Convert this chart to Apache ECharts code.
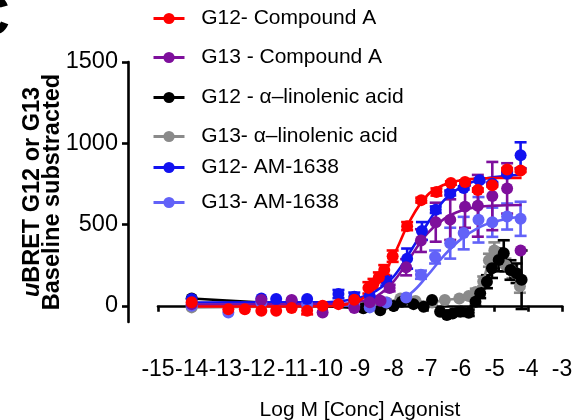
<!DOCTYPE html>
<html><head><meta charset="utf-8">
<script src="https://cdn.jsdelivr.net/npm/echarts@6/dist/echarts.min.js"></script>
<style>html,body{margin:0;padding:0;background:#fff}#c{width:574px;height:420px}</style>
</head><body><div id="c"></div><script>
// ---- tick labels ----
const xTicks = [-15,-14,-13,-12,-11,-10,-9,-8,-7,-6,-5,-4,-3];
const yTicks = [0, 500, 1000, 1500];

// ---- series names ----
const names = ['G12- Compound A','G13 - Compound A','G12 - \u03b1\u2013linolenic acid','G13- \u03b1\u2013linolenic acid','G12- AM-1638','G13- AM-1638'];

// ---- G12 Compound A (red) ----
const redX   = [-14,-12.91,-12.42,-11.93,-11.49,-11.03,-10.57,-10.11,-9.64,-9.17,-8.75,-8.6,-8.44,-8.28,-8.03,-7.6,-7.18,-6.73,-6.3,-5.88,-5.5,-5.07,-4.63,-4.23];
const redY   = [21,-21,-21,-31,-31,-14,-31,0,10,37,110,135,175,220,305,490,650,700,755,762,712,742,838,833];
const redErr = [0,0,0,0,0,0,22,0,0,0,35,30,30,30,35,25,15,22,10,10,10,10,10,10];
const redFitX = [-14,-10,-9.5,-9,-8.5,-8,-7.5,-7,-6.5,-6,-5.5,-5,-4.2];
const redFitY = [-5,-3,5,35,125,310,530,680,745,772,782,786,787];

// ---- G13 Compound A (purple) ----
const purX   = [-14,-11.93,-11.03,-10.11,-9.17,-8.71,-8.39,-8.12,-7.63,-7.19,-6.75,-6.32,-5.88,-5.5,-5.07,-4.63,-4.23];
const purY   = [10,35,35,-41,-14,21,31,109,237,401,514,530,610,615,675,722,340];
const purErr = [0,0,0,0,0,10,10,20,50,70,120,125,130,190,210,155,0];
const purFitX = [-14,-9.5,-9,-8.5,-8,-7.5,-7,-6.5,-6,-5.5,-5,-4.2];
const purFitY = [8,12,25,60,150,300,445,535,585,608,616,620];

// ---- G12 alpha-linolenic acid (black) ----
const blkX   = [-14,-8.9,-8.4,-8.0,-7.76,-7.41,-7.11,-6.86,-6.62,-6.42,-6.25,-6.02,-5.77,-5.57,-5.43,-5.23,-5.08,-4.88,-4.73,-4.53,-4.35,-4.2];
const blkY   = [45,-16,-27,-2,25,10,-6,35,-37,-57,-47,-37,-43,25,77,148,231,282,323,220,200,160];
const blkErr = [0,0,0,0,0,0,0,0,0,0,15,20,20,25,30,40,60,70,80,60,60,180];

// ---- G13 alpha-linolenic acid (grey) ----
const gryX   = [-14,-8.7,-8.2,-7.8,-7.35,-6.86,-6.48,-6.05,-5.77,-5.56,-5.34,-5.17,-5.01,-4.85,-4.68,-4.47,-4.25];
const gryY   = [-10,0,20,45,30,20,35,45,60,85,150,280,340,300,250,210,120];
const gryErr = [0,0,0,0,0,0,0,0,0,20,30,40,50,40,40,40,40];

// ---- G12 AM-1638 (blue) ----
const bluX   = [-14,-11.93,-11.49,-11.03,-10.57,-9.64,-9.17,-8.71,-8.22,-7.6,-7.16,-6.75,-6.32,-5.92,-5.45,-5.07,-4.63,-4.23];
const bluY   = [41,45,41,31,41,72,56,60,154,290,460,591,694,725,772,751,813,926];
const bluErr = [0,0,0,0,0,25,25,0,30,62,55,20,15,10,10,10,10,80];
const bluFitX = [-14,-10,-9.5,-9,-8.5,-8,-7.5,-7,-6.5,-6,-5.5,-5,-4.2];
const bluFitY = [20,22,30,50,95,180,335,505,650,730,772,792,806];

// ---- G13 AM-1638 (light blue) ----
const lbuX   = [-14,-12.91,-11.93,-10.57,-9.17,-8.71,-8.22,-7.63,-7.19,-6.77,-6.32,-5.92,-5.48,-5.07,-4.63,-4.23];
const lbuY   = [0,-41,20,10,0,-10,20,51,191,300,385,447,529,514,549,535];
const lbuErr = [0,0,0,0,0,0,0,15,25,40,95,100,140,90,80,105];
const lbuFitX = [-14,-9,-8.5,-8,-7.5,-7,-6.5,-6,-5.5,-5,-4.5,-4.2];
const lbuFitY = [0,2,8,25,75,185,310,410,478,518,540,548];

const colors = {red:'#FF0000', pur:'#7E0F9C', blk:'#000000', gry:'#8A8A8A', blu:'#1212F0', lbu:'#6262F8'};

function pairs(xs, ys){ return xs.map((x,i)=>[x, ys[i]]); }
function errData(xs, ys, es){
  const out=[];
  xs.forEach((x,i)=>{ if(es[i]>0) out.push([x, ys[i]-es[i], ys[i]+es[i]]); });
  return out;
}
function errSeries(xs, ys, es, color){
  return {
    type:'custom', silent:true, name:'err', data: errData(xs,ys,es),
    encode:{x:0, y:[1,2]},
    renderItem:function(params, api){
      const x=api.value(0), lo=api.value(1), hi=api.value(2);
      const p1=api.coord([x,hi]), p2=api.coord([x,lo]);
      const w=6; const st={stroke:color, lineWidth:2.6};
      return {type:'group', children:[
        {type:'line', shape:{x1:p1[0],y1:p1[1],x2:p2[0],y2:p2[1]}, style:st},
        {type:'line', shape:{x1:p1[0]-w,y1:p1[1],x2:p1[0]+w,y2:p1[1]}, style:st},
        {type:'line', shape:{x1:p2[0]-w,y1:p2[1],x2:p2[0]+w,y2:p2[1]}, style:st}
      ]};
    }
  };
}
function fitSeries(xs, ys, color){
  return {type:'line', name:'fit', silent:true, smooth:0.4, symbol:'none', data:pairs(xs,ys),
    lineStyle:{color:color, width:2.6}};
}
function ptSeries(name, xs, ys, color, connect){
  return {type:'line', name:name, data:pairs(xs,ys), symbol:'circle', symbolSize:12, showAllSymbol:true,
    itemStyle:{color:color}, lineStyle:{color:color, width:2.6, opacity: connect?1:0}};
}

const series = [
  errSeries(gryX,gryY,gryErr,colors.gry), ptSeries(names[3], gryX, gryY, colors.gry, true),
  errSeries(blkX,blkY,blkErr,colors.blk), ptSeries(names[2], blkX, blkY, colors.blk, true),
  errSeries(lbuX,lbuY,lbuErr,colors.lbu), fitSeries(lbuFitX,lbuFitY,colors.lbu), ptSeries(names[5], lbuX, lbuY, colors.lbu, false),
  errSeries(bluX,bluY,bluErr,colors.blu), fitSeries(bluFitX,bluFitY,colors.blu), ptSeries(names[4], bluX, bluY, colors.blu, false),
  errSeries(purX,purY,purErr,colors.pur), fitSeries(purFitX,purFitY,colors.pur), ptSeries(names[1], purX, purY, colors.pur, false),
  errSeries(redX,redY,redErr,colors.red), fitSeries(redFitX,redFitY,colors.red), ptSeries(names[0], redX, redY, colors.red, false)
];

const font = 'Liberation Sans, Arial, sans-serif';
const legendTops = [8, 47, 87, 126, 157, 192];
const legendColors = [colors.red, colors.pur, colors.blk, colors.gry, colors.blu, colors.lbu];
const legends = names.map((n,i)=>({
  data:[n], left:152, top:legendTops[i], padding:0, itemWidth:31, itemHeight:14,
  selectedMode:false,
  formatter: s => '  ' + s,
  textStyle:{fontSize:21, color:'#000', fontFamily:font},
  lineStyle:{color:legendColors[i], width:3, opacity:1},
  itemStyle:{color:legendColors[i]}
}));

const chart = echarts.init(document.getElementById('c'), null, {renderer:'canvas'});
chart.setOption({
  animation:false,
  backgroundColor:'#fff',
  textStyle:{fontFamily:font},
  legend: legends,
  graphic:[{type:'text', x:-32, y:19, style:{text:'C', font:'bold 58px '+font, fill:'#000', verticalAlign:'middle'}}],
  grid:{left:158, right:12, top:62, bottom:98, containLabel:false, outerBoundsMode:'none'},
  xAxis:{type:'value', min:-15, max:-3, interval:1, position:'bottom', offset:30,
    name:'Log M [Conc] Agonist', nameLocation:'middle', nameGap:48, nameMoveOverlap:false,
    nameTextStyle:{fontSize:21, color:'#000', fontFamily:font},
    axisLine:{show:true, lineStyle:{color:'#000', width:2.6}},
    axisTick:{show:true, length:6, lineStyle:{color:'#000', width:2.6}},
    axisLabel:{fontSize:23, color:'#000', margin:6, fontFamily:font, showMinLabel:true, showMaxLabel:true, hideOverlap:false,
      formatter: v => (xTicks.indexOf(v)>=0 ? String(v) : '')},
    splitLine:{show:false}},
  yAxis:{type:'value', min:-100, max:1500, interval:100, position:'left', offset:30,
    name:'{i|u}BRET G12 or G13\nBaseline substracted', nameLocation:'middle', nameGap:66, nameRotate:90, nameMoveOverlap:false,
    nameTextStyle:{fontSize:23.5, fontWeight:'bold', color:'#000', fontFamily:font, lineHeight:19.5,
      rich:{i:{fontStyle:'italic', fontWeight:'bold', fontSize:23.5, fontFamily:font, lineHeight:19.5}}},
    axisLine:{show:true, lineStyle:{color:'#000', width:2.6}},
    axisTick:{show:true, length:6, customValues: yTicks, lineStyle:{color:'#000', width:2.6}},
    axisLabel:{fontSize:23.5, color:'#000', margin:10, fontFamily:font, customValues: yTicks, formatter: v => String(v)},
    splitLine:{show:false}},
  series: series
});
</script></body></html>
